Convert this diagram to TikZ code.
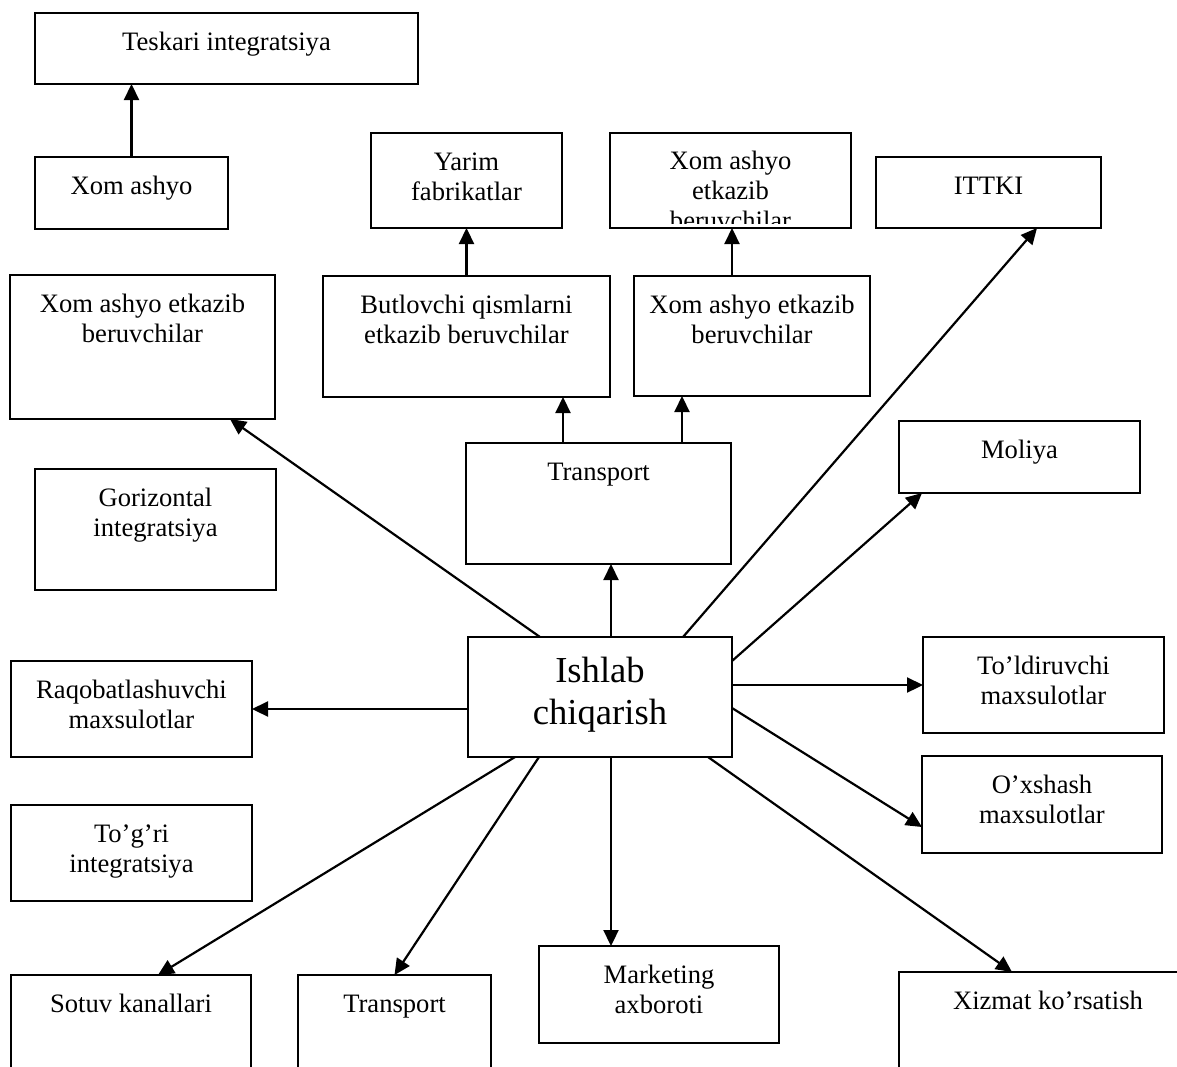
\documentclass[tikz,border=0pt]{standalone}
\usepackage{fontspec}
\setmainfont{Liberation Serif}
\usetikzlibrary{arrows.meta,calc}

\tikzset{
  boxst/.style={draw, line width=1pt, inner sep=0pt, outer sep=0pt, rectangle, fill=white},
  txtst/.style={inner sep=0pt, font=\fontsize{13.3}{15}\selectfont},
  bigtxt/.style={inner sep=0pt, font=\fontsize{18.3}{21}\selectfont},
  conn/.style={line width=1.1pt, -{Triangle[length=8pt,width=7.5pt]}},
}

% box: name, x1, y1, x2, y2, text style, text (text hangs from the top edge)
\newcommand\tbox[7]{%
  \pgfmathsetmacro\bw{(#4-#2)/2}%
  \pgfmathsetmacro\bh{(#5-#3)/2}%
  \node[boxst, minimum width=\bw pt, minimum height=\bh pt, anchor=north west] (#1) at (#2,#3) {};%
  \node[#6, anchor=base] (#1-t) at ($(#1.north)+(0,37)$) {\parbox[t]{\bw pt}{\centering #7}};%
}

\begin{document}
\begin{tikzpicture}[x=0.5pt, y=-0.5pt]
\useasboundingbox (0,0) rectangle (1177,1066);
\fill[white] (0,0) rectangle (1177,1066);
\clip (0,0) rectangle (1177,1066);

% upper row
\tbox{tesk}{35}{13}{418}{84}{txtst}{Teskari integratsiya}
\tbox{xom}{35}{157}{228}{229}{txtst}{Xom ashyo}
\tbox{yarim}{371}{133}{562}{228}{txtst}{Yarim\\fabrikatlar}
\node[boxst, minimum width=120.5pt, minimum height=47.5pt, anchor=north west] (txom) at (610,133) {};
\begin{scope}
  % the third line runs past the text area and is cut off
  \clip (610,133) rectangle (851,223);
  \node[txtst, anchor=base] (txom-t) at ($(txom.north)+(0,36)$)
    {\parbox[t]{120.5pt}{\centering Xom ashyo\\etkazib\\beruvchilar}};
\end{scope}
\tbox{ittki}{876}{157}{1101}{228}{txtst}{ITTKI}

% second row
\tbox{lxom}{10}{275}{275}{419}{txtst}{Xom ashyo etkazib\\beruvchilar}
\tbox{butl}{323}{276}{610}{397}{txtst}{Butlovchi qismlarni\\etkazib beruvchilar}
\tbox{rxom}{634}{276}{870}{396}{txtst}{Xom ashyo etkazib\\beruvchilar}

% middle band
\tbox{gor}{35}{469}{276}{590}{txtst}{Gorizontal\\integratsiya}
\tbox{trm}{466}{443}{731}{564}{txtst}{Transport}
\tbox{mol}{899}{421}{1140}{493}{txtst}{Moliya}

% central box
\node[boxst, minimum width=132pt, minimum height=60pt, anchor=north west] (ish) at (468,637) {};
\node[bigtxt, anchor=base] (ish-t) at ($(ish.north)+(0,45)$)
  {\parbox[t]{132pt}{\centering Ishlab\\chiqarish}};

\tbox{rak}{11}{661}{252}{757}{txtst}{Raqobatlashuvchi\\maxsulotlar}
\tbox{told}{923}{637}{1164}{733}{txtst}{To’ldiruvchi\\maxsulotlar}
\tbox{oxs}{922}{756}{1162}{853}{txtst}{O’xshash\\maxsulotlar}
\tbox{togri}{11}{805}{252}{901}{txtst}{To’g’ri\\integratsiya}

% bottom row
\tbox{sotuv}{11}{975}{251}{1100}{txtst}{Sotuv kanallari}
\tbox{trb}{298}{975}{491}{1100}{txtst}{Transport}
\tbox{mark}{539}{946}{779}{1043}{txtst}{Marketing\\axboroti}
\tbox{xiz}{899}{972}{1197}{1100}{txtst}{Xizmat ko’rsatish}

% connectors in the upper part
\draw[conn] (xom.north) -- (xom.north |- tesk.south);
\draw[conn] (butl.north) -- (butl.north |- yarim.south);
\draw[conn] (txom.south -| 732,0) ++(0,48) coordinate (rx) -- (rx |- txom.south);
\draw[conn] ($(trm.north west)+(97,0)$) coordinate (t1) -- (t1 |- butl.south);
\draw[conn] ($(trm.north west)+(216,0)$) coordinate (t2) -- (t2 |- rxom.south);
\draw[conn] ($(ish.north)+(11,0)$) coordinate (i1) -- (i1 |- trm.south);

% connectors from the central box
\draw[conn] ($(ish.north west)+(72,0)$) -- ($(lxom.south east)+(-45,0)$);
\draw[conn] ($(ish.north west)+(215,0)$) -- ($(ittki.south west)+(161,0)$);
\draw[conn] ($(ish.north east)+(0,24)$) -- ($(mol.south west)+(23,0)$);
\draw[conn] ($(ish.north east)+(0,48)$) coordinate (i2) -- (told.west |- i2);
\draw[conn] ($(ish.north east)+(0,71)$) -- ($(oxs.north west)+(0,71)$);
\draw[conn] ($(ish.north west)+(0,72)$) coordinate (i3) -- (rak.east |- i3);
\draw[conn] ($(ish.south west)+(47,0)$) -- ($(sotuv.north west)+(147,0)$);
\draw[conn] ($(ish.south west)+(71,0)$) -- (trb.north);
\draw[conn] ($(ish.south)+(11,0)$) coordinate (i4) -- (i4 |- mark.north);
\draw[conn] ($(ish.south west)+(240,0)$) -- ($(xiz.north west)+(113,0)$);
\end{tikzpicture}
\end{document}
